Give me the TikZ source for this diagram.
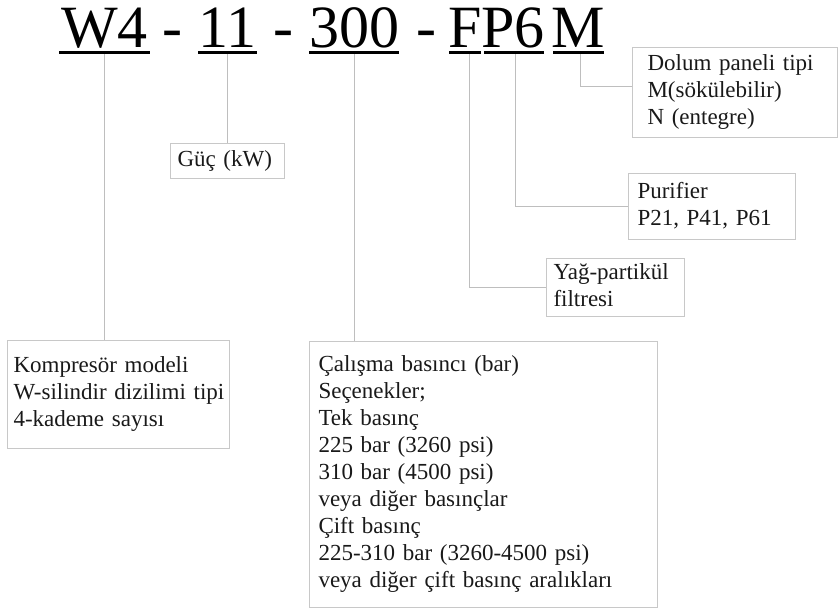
\documentclass[tikz,border=0pt]{standalone}
\usepackage{fontspec}
\setmainfont{Liberation Serif}
\definecolor{boxgray}{RGB}{200,200,200}
\definecolor{linegray}{RGB}{190,190,190}
\definecolor{txt}{RGB}{25,25,25}
\newcommand{\lns}[1]{\begin{tabular}{@{}l@{}}#1\end{tabular}}
\begin{document}
\begin{tikzpicture}[x=1pt,y=-1pt,
  box/.style={draw=boxgray, line width=1pt, anchor=north west, align=left,
    inner ysep=0pt, text=txt, font=\fontsize{23}{27}\selectfont},
  ttl/.style={anchor=base, inner sep=0pt, font=\fontsize{60}{60}\selectfont},
  ul/.style={fill=black, draw=none, inner sep=0pt, minimum height=3pt},
  conn/.style={draw=linegray, line width=1pt}]
\useasboundingbox (0,0) rectangle (838,611);
% title
\node[ttl] (tW) at (104.5,47) {W4};
\node[ttl] (d1) at (172,47) {-};
\node[ttl] (t11) at (227.5,47) {11};
\node[ttl] (d2) at (283,47) {-};
\node[ttl] (t300) at (354,47) {300};
\node[ttl] (d3) at (426,47) {-};
\node[ttl] (tFP) at (496.5,47) {FP6};
\node[ttl] (tM) at (578.5,47) {M};
% underlines
\node[ul, minimum width=91pt] (u1) at (104.5,52.5) {};
\node[ul, minimum width=59pt] (u2) at (227.5,52.5) {};
\node[ul, minimum width=90pt] (u3) at (354,52.5) {};
\node[ul, minimum width=32pt] (uF) at (465,52.5) {};
\node[ul, minimum width=60pt] (uP) at (514,52.5) {};
\node[ul, minimum width=51pt] (uM) at (578.5,52.5) {};
% boxes
\node[box, inner xsep=6pt, text width=210pt, minimum height=108pt] (komp) at (7,340)
  {\lns{Kompresör modeli\\W-silindir dizilimi tipi\\4-kademe sayısı}};
\node[box, inner xsep=7pt, text width=100pt, minimum height=35pt] (guc) at (170,143)
  {\lns{Güç (kW)}};
\node[box, inner xsep=9pt, text width=330pt, minimum height=266pt] (cal) at (309,341)
  {\lns{Çalışma basıncı (bar)\\Seçenekler;\\Tek basınç\\225 bar (3260 psi)\\310 bar (4500 psi)\\veya diğer basınçlar\\Çift basınç\\225-310 bar (3260-4500 psi)\\veya diğer çift basınç aralıkları}};
\node[box, inner xsep=7pt, text width=124pt, minimum height=58pt] (yag) at (546,258)
  {\lns{Yağ-partikül\\filtresi}};
\node[box, inner xsep=9pt, text width=149pt, minimum height=66pt] (pur) at (628,173)
  {\lns{Purifier\\P21, P41, P61}};
\node[box, inner xsep=15pt, text width=175pt, minimum height=90pt] (dol) at (632,47)
  {\lns{Dolum paneli tipi\\M(sökülebilir)\\N (entegre)}};
% connectors
\draw[conn] (u1.south) -- (u1.south |- komp.north);
\draw[conn] (u2.south) -- (u2.south |- guc.north);
\draw[conn] (u3.south) -- (u3.south |- cal.north);
\draw[conn] ([xshift=4pt]uF.south) |- (yag.west);
\draw[conn] ([xshift=1pt]uP.south) |- (pur.west);
\draw[conn] ([xshift=1.5pt]uM.south) |- ([yshift=6pt]dol.west);
\end{tikzpicture}
\end{document}
